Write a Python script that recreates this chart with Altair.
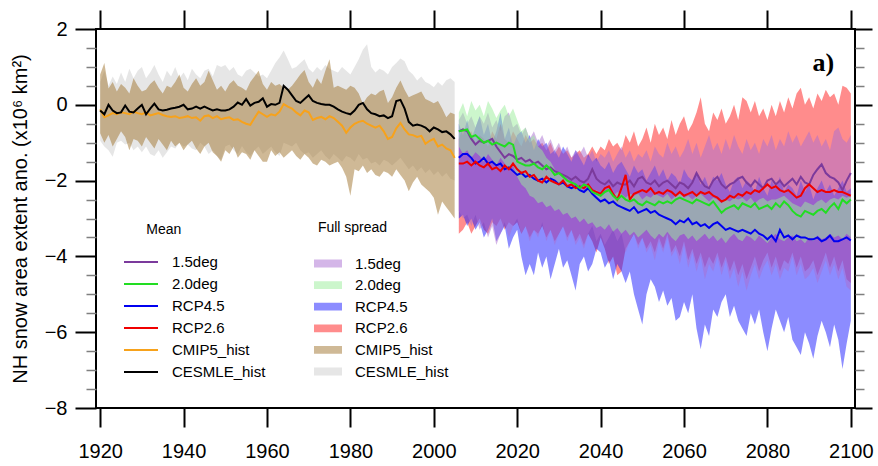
import altair as alt
import pandas as pd

# ---------------- data ----------------
hist_years = list(range(1920, 2006))
fut_years = list(range(2006, 2101))

cesmle_mean = [
    -0.15, -0.25, 0.0, -0.15, -0.22, -0.2, -0.02, -0.18, -0.2, -0.1,
    0.0, -0.25, -0.1, 0.03, -0.12, -0.15, -0.13, -0.1, -0.08, -0.05,
    0.0, -0.12, -0.1, -0.05, -0.1, -0.05, -0.1, -0.15, -0.12, -0.15,
    -0.15, -0.12, -0.05, 0.06, 0.0, 0.15, -0.02, 0.05, 0.08, 0.17,
    -0.05, 0.02, 0.0, 0.05, 0.5, 0.4, 0.25, 0.1, 0.05, 0.15,
    0.25, 0.1, 0.05, 0.02, 0.0, 0.0, -0.05, -0.12, -0.18, -0.22,
    -0.25, -0.15, 0.0, 0.05, -0.12, -0.22, -0.25, -0.3, -0.28, -0.35,
    -0.3, 0.1, 0.13, -0.1, -0.45, -0.55, -0.52, -0.55, -0.6, -0.7,
    -0.6, -0.65, -0.72, -0.7, -0.78, -0.9]
cmip5_mean = [
    -0.12, -0.33, -0.28, -0.22, -0.25, -0.2, -0.22, -0.25, -0.18, -0.22,
    -0.25, -0.2, -0.28, -0.25, -0.22, -0.27, -0.3, -0.32, -0.3, -0.35,
    -0.33, -0.3, -0.35, -0.33, -0.42, -0.3, -0.28, -0.35, -0.3, -0.38,
    -0.35, -0.33, -0.4, -0.38, -0.45, -0.5, -0.53, -0.35, -0.18, -0.25,
    -0.32, -0.25, -0.28, -0.18, 0.02, -0.05, -0.1, -0.2, -0.28, -0.15,
    -0.2, -0.4, -0.35, -0.32, -0.38, -0.3, -0.35, -0.45, -0.55, -0.74,
    -0.6, -0.5, -0.45, -0.42, -0.5, -0.55, -0.6, -0.55, -0.7, -0.9,
    -0.85, -0.62, -0.48, -0.65, -0.78, -0.8, -0.85, -0.82, -1.03, -0.95,
    -0.9, -1.1, -1.05, -1.15, -1.2, -1.4]
cesmle_hi = [
    0.6, 0.9, 0.5, 0.75, 0.55, 0.85, 0.6, 0.95, 0.7, 0.9,
    1.0, 0.7, 0.85, 1.05, 0.8, 0.6, 0.9, 0.75, 1.0, 0.7,
    0.85, 0.65, 0.95, 0.8, 0.7, 0.9, 0.95, 0.75, 1.05, 1.0,
    1.05, 0.9, 1.0, 0.8, 0.74, 0.9, 0.95, 0.85, 0.75, 0.8,
    0.7, 0.9, 1.1, 1.25, 1.43, 1.2, 0.95, 1.0, 1.1, 1.2,
    0.95, 0.85, 1.0, 0.9, 1.05, 0.95, 0.9, 0.85, 1.0, 0.9,
    0.8, 1.0, 1.2, 1.45, 1.6, 1.0, 0.85, 0.95, 0.9, 0.8,
    1.0, 1.1, 1.22, 1.15, 0.9, 0.8, 0.64, 0.75, 0.6, 0.55,
    0.46, 0.6, 0.5, 0.65, 0.7, 0.6]
cesmle_lo = [
    -0.95, -1.1, -1.2, -1.37, -1.0, -0.95, -1.05, -1.0, -1.2, -1.1,
    -1.25, -1.1, -1.3, -1.35, -1.2, -1.4, -1.25, -1.1, -1.15, -1.0,
    -1.1, -1.05, -1.15, -1.2, -1.0, -1.1, -1.3, -1.2, -1.35, -1.45,
    -1.1, -1.05, -1.2, -1.3, -1.09, -1.25, -1.35, -1.2, -1.1, -1.3,
    -1.2, -1.1, -1.25, -1.35, -1.0, -1.05, -1.1, -1.0, -1.2, -1.3,
    -1.25, -1.4, -1.3, -1.2, -1.35, -1.45, -1.3, -1.4, -1.5, -1.35,
    -1.4, -1.5, -1.3, -1.45, -1.4, -1.55, -1.5, -1.6, -1.45, -1.5,
    -1.6, -1.5, -1.4, -1.55, -1.7, -1.6, -1.75, -1.65, -1.8, -1.7,
    -1.85, -1.75, -1.9, -1.8, -1.95, -2.0]
cmip5_hi = [
    0.8, 1.1, 0.43, 0.6, 0.35, 0.55, 0.45, 0.3, 0.7, 0.5,
    0.35, 0.4, 0.55, 0.65, 0.45, 0.3, 0.5, 0.45, 0.6, 0.8,
    0.45, 0.35, 0.55, 0.7, 0.5, 0.6, 0.9, 0.65, 0.4, 0.5,
    0.35, 0.55, 0.65, 0.5, 0.45, 0.37, 0.6, 0.75, 0.9, 0.55,
    0.4, 0.6, 0.5, 0.55, 0.45, 0.4, 0.5, 0.65, 0.8, 0.92,
    0.6, 0.45, 0.7, 0.55, 0.9, 1.2, 0.45, 0.5, 0.45, 0.4,
    0.5, 0.45, 0.3, 0.03, 0.2, 0.3, 0.25, 0.35, 0.4, 0.05,
    0.2, 0.45, 0.64, 0.4, 0.2, 0.25, 0.3, 0.35, 0.15, 0.1,
    0.04, 0.1, -0.1, -0.33, -0.2, -0.25]
cmip5_lo = [
    -0.75, -1.0, -0.8, -1.1, -0.9, -0.7, -0.85, -1.2, -0.9, -0.95,
    -1.1, -0.85, -1.0, -1.15, -0.9, -1.05, -1.2, -0.95, -1.1, -1.0,
    -1.2, -1.05, -0.95, -1.15, -1.3, -1.1, -1.0, -1.25, -1.35, -1.5,
    -1.2, -1.3, -1.1, -1.4, -1.25, -1.3, -1.45, -1.2, -1.35, -1.5,
    -1.5, -1.2, -1.35, -1.25, -1.4, -1.3, -1.2, -1.35, -1.45, -1.3,
    -1.4, -1.55, -1.6, -1.45, -1.5, -1.6, -1.55, -1.5, -1.66, -1.9,
    -2.4, -1.7, -1.75, -1.6, -1.8, -1.7, -1.85, -1.9, -1.75, -1.8,
    -1.9, -1.7, -1.85, -2.0, -2.28, -2.05, -1.9, -2.1, -2.2, -2.3,
    -2.45, -2.9, -2.55, -2.7, -2.85, -3.0]

deg15_mean = [
    -0.7, -0.65, -0.7, -0.9, -1.05, -0.95, -1.0, -0.95, -0.9, -1.1,
    -1.25, -1.4, -1.3, -1.35, -1.45, -1.4, -1.5, -1.45, -1.55, -1.5,
    -1.6, -1.7, -1.65, -1.75, -1.8, -1.85, -1.9, -1.98, -1.9, -2.0,
    -2.05, -1.95, -1.7, -1.95, -2.05, -2.1, -2.0, -2.15, -2.05, -2.1,
    -2.1, -2.0, -2.15, -1.95, -1.9, -2.05, -2.1, -2.0, -2.15, -2.05,
    -2.0, -2.1, -2.2, -2.05, -2.1, -2.2, -2.05, -1.8, -2.0, -2.15,
    -2.2, -2.0, -1.9, -2.1, -2.2, -2.1, -2.05, -1.95, -1.9, -2.05,
    -2.15, -2.0, -2.1, -2.2, -2.0, -1.95, -2.1, -2.0, -2.15, -2.05,
    -1.95, -2.1, -1.9, -2.05, -2.1, -1.85, -1.7, -1.57, -1.8, -1.9,
    -1.95, -2.05, -2.25, -2.0, -1.8]
deg20_mean = [
    -0.7, -0.68, -0.65, -0.85, -0.8, -0.9, -1.0, -0.95, -1.05, -1.0,
    -1.05, -1.1, -1.0, -1.05, -1.5, -1.55, -1.6, -1.6, -1.55, -1.65,
    -1.7, -1.6, -1.7, -1.85, -1.8, -1.9, -2.0, -2.05, -2.1, -2.2,
    -2.1, -2.15, -2.3, -2.35, -2.4, -2.3, -2.25, -2.4, -2.5, -2.4,
    -2.5, -2.55, -2.5, -2.6, -2.65, -2.55, -2.6, -2.65, -2.55, -2.6,
    -2.55, -2.6, -2.5, -2.45, -2.5, -2.55, -2.6, -2.5, -2.55, -2.6,
    -2.65, -2.55, -2.7, -2.85, -2.75, -2.7, -2.65, -2.75, -2.6, -2.65,
    -2.7, -2.6, -2.75, -2.7, -2.65, -2.75, -2.6, -2.7, -2.55, -2.65,
    -2.8, -2.9, -2.95, -2.8, -2.85, -2.9, -2.8, -2.75, -2.85, -2.7,
    -2.6, -2.75, -2.5, -2.6, -2.5]
rcp45_mean = [
    -1.4, -1.3, -1.3, -1.4, -1.55, -1.5, -1.4, -1.55, -1.5, -1.6,
    -1.55, -1.7, -1.65, -1.75, -1.85, -1.8, -1.9, -1.85, -1.95, -2.0,
    -1.95, -2.05, -1.95, -2.0, -2.1, -2.05, -2.15, -2.2, -2.15, -2.25,
    -2.3, -2.2, -2.35, -2.45, -2.55, -2.5, -2.6, -2.55, -2.65, -2.7,
    -2.75, -2.8, -2.7, -2.85, -2.8, -2.75, -2.85, -2.8, -2.9, -2.95,
    -3.0, -3.05, -3.15, -3.05, -3.1, -3.0, -3.15, -3.1, -3.2, -3.15,
    -3.25, -3.15, -3.1, -3.2, -3.3, -3.25, -3.3, -3.35, -3.3, -3.35,
    -3.4, -3.3, -3.4, -3.45, -3.55, -3.45, -3.6, -3.3, -3.5, -3.45,
    -3.55, -3.45, -3.5, -3.5, -3.55, -3.55, -3.5, -3.6, -3.55, -3.45,
    -3.6, -3.6, -3.55, -3.5, -3.58]
rcp26_mean = [
    -1.55, -1.55, -1.5, -1.6, -1.5, -1.6, -1.65, -1.55, -1.7, -1.65,
    -1.75, -1.6, -1.7, -1.55, -1.7, -1.8, -1.75, -1.9, -1.85, -2.0,
    -2.05, -1.9, -2.0, -2.05, -2.1, -2.0, -2.15, -2.1, -2.2, -2.15,
    -2.2, -2.1, -2.25, -2.3, -2.35, -2.2, -2.15, -2.35, -2.5, -2.2,
    -1.85, -2.5, -2.35, -2.3, -2.25, -2.3, -2.2, -2.35, -2.3, -2.35,
    -2.25, -2.3, -2.4, -2.3, -2.4, -2.35, -2.3, -2.4, -2.3, -2.35,
    -2.3, -2.4, -2.45, -2.55, -2.5, -2.4, -2.45, -2.35, -2.4, -2.3,
    -2.35, -2.25, -2.3, -2.2, -2.1, -2.2, -2.15, -2.25, -2.3, -2.25,
    -2.35, -2.45, -2.4, -2.2, -2.1, -2.2, -2.3, -2.25, -2.3, -2.3,
    -2.25, -2.3, -2.3, -2.35, -2.4]

rcp26_hi = [
    -0.9, -0.6, -0.8, -0.7, -1.0, -0.8, -0.9, -1.1, -0.7, -0.9,
    -0.5, -0.9, -1.0, -0.7, -0.9, -1.1, -0.8, -1.0, -0.9, -1.1,
    -1.0, -1.2, -1.0, -1.3, -1.1, -1.3, -1.2, -1.4, -1.3, -1.2,
    -1.4, -1.3, -1.1, -1.3, -1.1, -1.2, -0.9, -1.1, -1.0, -1.2,
    -0.8, -1.0, -0.7, -1.1, -0.9, -0.6, -1.0, -0.5, -0.8, -0.6,
    -0.9, -0.4, -0.8, -0.5, -0.3, -0.7, -0.5, -0.2, 0.2, -0.5,
    -0.7, -0.2, -0.4, -0.1, -0.5, -0.3, 0.0, -0.4, 0.2, 0.1,
    -0.2, 0.1, -0.3, -0.1, -0.4, 0.0, -0.3, 0.1, -0.2, 0.2,
    -0.1, 0.3, 0.45, 0.0, 0.2, -0.1, 0.3, 0.1, 0.4, 0.2,
    0.3, 0.0, 0.5, 0.45, 0.3]
rcp26_lo = [
    -3.4, -3.3, -3.1, -3.4, -3.2, -3.0, -3.3, -3.4, -3.1, -3.2,
    -3.0, -3.3, -3.1, -3.2, -3.1, -3.4, -3.2, -3.5, -3.3, -3.4,
    -3.2, -3.5, -3.3, -3.6, -3.4, -3.2, -3.5, -3.3, -3.6, -3.4,
    -3.7, -3.4, -3.6, -3.9, -3.5, -3.8, -4.2, -4.0, -4.5, -4.4,
    -3.8, -3.6, -3.4, -3.7, -3.5, -3.8, -3.6, -3.9, -3.5, -3.8,
    -3.4, -3.9, -3.7, -4.0, -3.6, -4.1, -3.8, -4.2, -3.9, -4.3,
    -4.0, -4.2, -3.9, -4.3, -4.0, -4.4, -4.1, -4.5, -4.2, -4.6,
    -4.3, -4.0, -4.4, -4.1, -3.9, -4.3, -4.0, -4.4, -4.1, -4.2,
    -3.9, -4.3, -4.0, -4.4, -4.3, -4.1, -4.5, -4.2, -3.9, -4.3,
    -4.0, -4.4, -4.1, -4.6, -4.7]
rcp45_hi = [
    -0.5, -0.8, -0.4, -0.9, -0.6, -0.3, -0.8, -0.5, -1.0, -0.7,
    -0.2, -0.9, -0.6, -1.1, -0.8, -0.7, -1.0, -0.8, -1.2, -0.9,
    -1.1, -1.0, -1.3, -1.2, -1.4, -1.1, -1.3, -1.5, -1.2, -1.4,
    -1.6, -1.3, -1.5, -1.4, -1.6, -1.7, -1.5, -1.8, -1.6, -1.5,
    -1.7, -1.9, -1.6, -1.8, -1.7, -2.0, -1.8, -1.6, -1.9, -1.7,
    -2.0, -1.8, -1.9, -2.1, -1.7, -1.9, -2.0, -1.8, -2.1, -1.9,
    -2.2, -1.9, -2.0, -1.8, -2.1, -2.3, -2.0, -1.9, -2.2, -2.0,
    -2.1, -2.3, -1.9, -2.2, -2.4, -2.0, -2.2, -1.9, -2.3, -2.1,
    -2.2, -2.4, -2.0, -2.3, -2.1, -2.5, -2.2, -2.0, -2.3, -2.1,
    -2.4, -2.2, -2.0, -2.3, -2.2]
rcp45_lo = [
    -3.0, -2.9, -3.2, -3.0, -3.3, -3.1, -3.5, -3.3, -3.0, -3.6,
    -3.4, -3.2, -3.8, -3.5, -3.3, -4.0, -4.5, -4.2, -4.5, -3.9,
    -4.3, -4.0, -4.6, -4.2, -3.8, -4.3, -4.1, -4.5, -4.9, -4.2,
    -4.0, -4.4, -4.2, -3.8, -3.9, -4.3, -4.1, -4.6, -4.2, -4.4,
    -4.7, -4.4, -5.0, -5.4, -5.8, -5.0, -4.6, -4.8, -5.2, -4.9,
    -5.3, -5.1, -5.7, -5.6, -5.2, -5.5, -5.0, -5.9, -6.45, -5.8,
    -6.1, -5.4, -5.6, -5.2, -5.0, -5.6, -5.3, -5.7, -5.9, -6.1,
    -5.5, -5.8, -5.4, -6.0, -6.5, -5.9, -5.4, -5.7, -6.0, -5.6,
    -6.2, -6.4, -6.6, -6.0, -6.3, -6.7, -6.1, -5.7, -6.0, -6.4,
    -5.8, -6.2, -6.97, -6.3, -5.7]
deg15_hi = [
    -0.4, -0.2, -0.5, -0.3, -0.6, -0.3, -0.5, -0.2, -0.6, -0.4,
    -0.7, -0.3, -0.2, -0.6, -0.5, -0.8, -0.6, -0.9, -0.7, -1.0,
    -0.8, -1.1, -0.9, -1.2, -1.0, -1.3, -1.1, -1.4, -1.2, -1.3,
    -1.1, -1.4, -1.2, -1.5, -1.3, -1.4, -1.2, -1.5, -1.3, -1.1,
    -1.4, -1.2, -1.5, -1.3, -1.4, -1.2, -1.5, -1.1, -1.3, -1.4,
    -1.0, -1.3, -1.1, -1.4, -1.2, -0.9, -1.3, -1.0, -1.4, -1.1,
    -0.8, -1.2, -1.0, -1.3, -0.9, -1.2, -0.8, -1.1, -1.3, -0.9,
    -1.2, -1.0, -1.3, -0.9, -1.1, -0.8, -1.2, -0.9, -1.1, -0.7,
    -1.0, -0.8, -1.1, -0.9, -0.7, -1.0, -0.8, -1.1, -0.9, -1.2,
    -0.7, -0.6, -0.9, -1.0, -0.8]
deg15_lo = [
    -2.8, -3.0, -2.9, -3.2, -2.9, -3.3, -3.1, -3.5, -3.2, -3.7,
    -3.4, -3.1, -3.5, -3.2, -3.0, -3.4, -3.2, -3.6, -3.3, -3.5,
    -3.1, -3.6, -3.3, -3.7, -3.4, -3.2, -3.6, -3.3, -3.7, -3.5,
    -3.8, -3.4, -3.2, -3.6, -3.4, -3.7, -3.5, -3.3, -3.6, -3.4,
    -3.9, -3.6, -3.4, -3.8, -3.5, -3.9, -3.7, -4.1, -3.6, -3.9,
    -3.5, -4.0, -3.8, -4.2, -3.7, -4.3, -3.9, -4.4, -4.0, -4.6,
    -4.2, -4.4, -4.0, -4.5, -4.1, -4.6, -4.3, -4.8, -4.4, -4.9,
    -4.5, -4.2, -4.6, -4.3, -4.1, -4.5, -4.2, -4.6, -4.3, -4.4,
    -4.0, -4.5, -4.2, -4.6, -4.5, -4.3, -4.7, -4.4, -4.1, -4.5,
    -4.2, -4.6, -4.3, -4.8, -4.9]
deg20_hi = [
    -0.2, 0.05, -0.3, 0.1, -0.15, 0.0, -0.3, 0.1, -0.1, -0.35,
    -0.15, 0.0, -0.3, -0.1, -0.4, -0.7, -0.6, -0.9, -0.8, -1.1,
    -1.2, -1.4, -1.5, -1.7, -1.8, -1.9, -2.0, -2.1, -2.15, -2.2,
    -2.25, -2.2, -2.3, -2.25, -2.35, -2.3, -2.25, -2.4, -2.3, -2.35,
    -2.45, -2.35, -2.4, -2.35, -2.5, -2.4, -2.45, -2.35, -2.4, -2.45,
    -2.35, -2.5, -2.4, -2.35, -2.45, -2.4, -2.5, -2.4, -2.35, -2.45,
    -2.55, -2.45, -2.5, -2.6, -2.5, -2.55, -2.45, -2.5, -2.45, -2.55,
    -2.45, -2.6, -2.5, -2.45, -2.55, -2.5, -2.5, -2.45, -2.4, -2.5,
    -2.6, -2.65, -2.7, -2.55, -2.6, -2.65, -2.55, -2.5, -2.6, -2.5,
    -2.45, -2.5, -2.4, -2.45, -2.4]
deg20_lo = [
    -1.1, -1.3, -1.2, -1.4, -1.25, -1.35, -1.5, -1.3, -1.45, -1.6,
    -1.4, -1.55, -1.7, -1.6, -1.9, -2.1, -2.2, -2.4, -2.45, -2.6,
    -2.55, -2.7, -2.65, -2.8, -2.75, -2.9, -2.85, -3.0, -2.95, -3.1,
    -3.0, -3.15, -3.1, -3.25, -3.2, -3.3, -3.15, -3.35, -3.25, -3.4,
    -3.3, -3.45, -3.35, -3.5, -3.4, -3.3, -3.45, -3.55, -3.4, -3.5,
    -3.35, -3.5, -3.6, -3.45, -3.4, -3.55, -3.45, -3.6, -3.5, -3.4,
    -3.55, -3.45, -3.6, -3.5, -3.65, -3.5, -3.4, -3.55, -3.6, -3.45,
    -3.5, -3.6, -3.45, -3.55, -3.65, -3.5, -3.4, -3.55, -3.6, -3.5,
    -3.45, -3.6, -3.55, -3.65, -3.5, -3.6, -3.45, -3.55, -3.5, -3.4,
    -3.5, -3.45, -3.55, -3.4, -3.5]

series_order = ["1.5deg", "2.0deg", "RCP4.5", "RCP2.6", "CMIP5_hist", "CESMLE_hist"]
line_colors = ["#7B3A9C", "#22DD22", "#0000F0", "#F00000", "#F7A21B", "#000000"]
# colours of the spreads; drawn at 50% opacity
fill_colors = ["#AA6ED2", "#99EE99", "#1A1AFF", "#FF1A1A", "#A0732D", "#CDCDCD"]

x_ticks = [1920, 1940, 1960, 1980, 2000, 2020, 2040, 2060, 2080, 2100]
y_major = [-8, -6, -4, -2, 0, 2]
y_minor = [-7.5, -7, -6.5, -5.5, -5, -4.5, -3.5, -3, -2.5, -1.5, -1, -0.5, 0.5, 1, 1.5]

# keys for the line series carry a "m:" prefix so that the two legends stay separate
MEAN_PREFIX = "m:"
mean_order = [MEAN_PREFIX + s for s in series_order]

# ---------------- tables ----------------
spread_sets = [
    ("CESMLE_hist", hist_years, cesmle_lo, cesmle_hi),
    ("CMIP5_hist", hist_years, cmip5_lo, cmip5_hi),
    ("RCP2.6", fut_years, rcp26_lo, rcp26_hi),
    ("RCP4.5", fut_years, rcp45_lo, rcp45_hi),
    ("1.5deg", fut_years, deg15_lo, deg15_hi),
    ("2.0deg", fut_years, deg20_lo, deg20_hi),
]
mean_sets = [
    ("CMIP5_hist", hist_years, cmip5_mean),
    ("CESMLE_hist", hist_years, cesmle_mean),
    ("1.5deg", fut_years, deg15_mean),
    ("RCP4.5", fut_years, rcp45_mean),
    ("RCP2.6", fut_years, rcp26_mean),
    ("2.0deg", fut_years, deg20_mean),
]

rows = []
for name, yrs, lo, hi in spread_sets:
    if len(lo) != len(yrs) or len(hi) != len(yrs):
        raise ValueError(f"{name}: lengths {len(lo)} {len(hi)} vs {len(yrs)}")
    for y, a, b in zip(yrs, lo, hi):
        rows.append({"year": y, "lo": a, "hi": b, "spread_series": name})
spread_df = pd.DataFrame(rows)

rows = []
for name, yrs, vals in mean_sets:
    if len(vals) != len(yrs):
        raise ValueError(f"{name}: length {len(vals)} vs {len(yrs)}")
    for y, v in zip(yrs, vals):
        rows.append({"year": y, "value": v, "mean_series": MEAN_PREFIX + name})
mean_df = pd.DataFrame(rows)

# ---------------- scales / axes / legends ----------------
FONT = "Liberation Sans"
X_SCALE = alt.Scale(domain=[1919, 2101], nice=False, zero=False)
Y_SCALE = alt.Scale(domain=[-8, 2], nice=False, zero=False)
fill_scale = alt.Scale(domain=series_order, range=fill_colors)
stroke_scale = alt.Scale(domain=mean_order, range=line_colors)

x_bottom = alt.Axis(orient="bottom", values=x_ticks, format="d", tickSize=19, tickWidth=2,
                    tickColor="black", labelFontSize=20, labelFont=FONT, labelColor="black",
                    labelPadding=14, domain=False, grid=False, title=None)
x_top = alt.Axis(orient="top", values=x_ticks, tickSize=19, tickWidth=2, tickColor="black",
                 labels=False, domain=False, grid=False, title=None)
y_left = alt.Axis(orient="left", values=y_major, tickSize=21, tickWidth=2, tickColor="black",
                  labelFontSize=20, labelFont=FONT, labelColor="black", labelPadding=8,
                  domain=False, grid=False,
                  title="NH snow area extent ano. (x10\u2076 km\u00b2)",
                  titleFont=FONT, titleFontSize=20, titleFontWeight="normal", titleColor="black",
                  titleX=-76, titleY=189.5, titleAngle=270, titleAlign="center",
                  titleBaseline="middle")
y_left_minor = alt.Axis(orient="left", values=y_minor, tickSize=10, tickWidth=1.5,
                        tickColor="#7f7f7f", labels=False, domain=False, grid=False, title=None)
y_right = alt.Axis(orient="right", values=y_major, tickSize=17, tickWidth=2, tickColor="black",
                   labels=False, domain=False, grid=False, title=None)
y_right_minor = alt.Axis(orient="right", values=y_minor, tickSize=9, tickWidth=1.5,
                         tickColor="#7f7f7f", labels=False, domain=False, grid=False, title=None)

# a zero-width char keeps the following no-break spaces from being trimmed
fill_legend = alt.Legend(
    title="\u200b\u00a0Full spread", orient="none", legendX=218, legendY=191.5, padding=0,
    symbolType="M-1,-0.28L1,-0.28L1,0.28L-1,0.28Z", symbolSize=784, symbolStrokeWidth=0,
    symbolOpacity=0.5,
    clipHeight=16, rowPadding=5.6, labelOffset=13, labelFontSize=15, labelFont=FONT,
    labelColor="black", titleFontSize=14, titleFont=FONT, titleFontWeight="normal",
    titleColor="black", titlePadding=21)
stroke_legend = alt.Legend(
    title="\u200b" + "\u00a0" * 6 + "Mean", orient="none", legendX=27, legendY=193.5, padding=0,
    symbolType="stroke", symbolSize=1156, symbolStrokeWidth=2,
    clipHeight=16, rowPadding=6, labelOffset=13, labelFontSize=15, labelFont=FONT,
    labelColor="black", titleFontSize=14, titleFont=FONT, titleFontWeight="normal",
    titleColor="black", titlePadding=17.5,
    labelExpr="replace(datum.label, '" + MEAN_PREFIX + "', '')")


def area_layer(name, xaxis=None, yaxis=None):
    return alt.Chart(spread_df).transform_filter(
        alt.datum.spread_series == name
    ).mark_area(strokeWidth=0, fillOpacity=0.5, clip=True).encode(
        x=alt.X("year:Q", scale=X_SCALE, axis=xaxis),
        y=alt.Y("lo:Q", scale=Y_SCALE, axis=yaxis),
        y2="hi:Q",
        fill=alt.Fill("spread_series:N", scale=fill_scale, legend=fill_legend),
    )


def line_layer(name):
    return alt.Chart(mean_df).transform_filter(
        alt.datum.mean_series == MEAN_PREFIX + name
    ).mark_line(strokeWidth=2, clip=True).encode(
        x=alt.X("year:Q", scale=X_SCALE, axis=None),
        y=alt.Y("value:Q", scale=Y_SCALE, axis=None),
        stroke=alt.Stroke("mean_series:N", scale=stroke_scale, legend=stroke_legend),
    )


layers = [
    area_layer("CESMLE_hist", x_bottom, y_left),
    area_layer("CMIP5_hist", x_top, y_left_minor),
    area_layer("RCP2.6", None, y_right),
    area_layer("RCP4.5", None, y_right_minor),
    area_layer("1.5deg"),
    area_layer("2.0deg"),
]
for name, _, _ in mean_sets:
    layers.append(line_layer(name))

label = alt.Chart(pd.DataFrame({"t": ["a)"]})).mark_text(
    font="Liberation Serif", fontWeight="bold", fontSize=26, align="right",
    baseline="middle", color="black"
).encode(
    x=alt.XDatum(2096, scale=X_SCALE, axis=None),
    y=alt.YDatum(1.1, scale=Y_SCALE, axis=None),
    text="t:N",
)
layers.append(label)

chart = alt.layer(*layers).resolve_axis(x="independent", y="independent").properties(
    width=759, height=379,
    autosize=alt.AutoSizeParams(type="none"),
    padding={"left": 96, "top": 29, "right": 23, "bottom": 58},
    background="white",
).configure_view(stroke="black", strokeWidth=2)

chart.save("out.html", embed_options={"renderer": "svg", "actions": False})
